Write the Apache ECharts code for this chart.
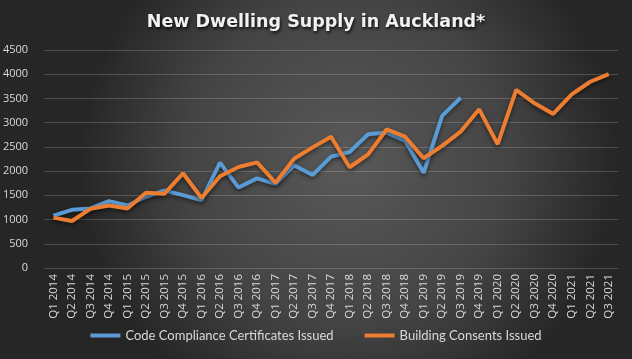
<!DOCTYPE html>
<html>
<head>
<meta charset="utf-8">
<script src="https://cdn.jsdelivr.net/npm/echarts@6/dist/echarts.min.js"></script>
<style>html,body{margin:0;padding:0;background:#333;}#c{width:632px;height:359px;}</style>
</head>
<body>
<div id="c"></div>
<script>
const categories = ["Q1 2014","Q2 2014","Q3 2014","Q4 2014","Q1 2015","Q2 2015","Q3 2015","Q4 2015","Q1 2016","Q2 2016","Q3 2016","Q4 2016","Q1 2017","Q2 2017","Q3 2017","Q4 2017","Q1 2018","Q2 2018","Q3 2018","Q4 2018","Q1 2019","Q2 2019","Q3 2019","Q4 2019","Q1 2020","Q2 2020","Q3 2020","Q4 2020","Q1 2021","Q2 2021","Q3 2021"];
const ccc = [1080,1200,1230,1380,1290,1470,1600,1505,1400,2175,1660,1850,1735,2120,1920,2300,2395,2760,2795,2630,1965,3140,3515,null,null,null,null,null,null,null,null];
const consents = [1040,970,1220,1290,1230,1555,1535,1955,1445,1895,2085,2180,1760,2255,2490,2710,2080,2345,2860,2710,2265,2520,2815,3275,2555,3675,3400,3180,3585,3845,4000];
const yTicks = {min:0, max:4500, interval:500};
const seriesNames = ["Code Compliance Certificates Issued","Building Consents Issued"];

const chart = echarts.init(document.getElementById('c'), null, {renderer:'canvas'});
chart.setOption({
  backgroundColor: {type:'radial', x:0.55, y:0.45, r:0.75, colorStops:[{offset:0,color:'#595959'},{offset:0.6,color:'#444444'},{offset:1,color:'#262626'}]},
  textStyle:{fontFamily:'Open Sans'},
  title:{
    text:'New Dwelling Supply in Auckland*', left:'center', top:8,
    textStyle:{color:'#f2f2f2', fontSize:17.5, fontWeight:'bold', fontFamily:'DejaVu Sans',
      textShadowColor:'rgba(0,0,0,0.8)', textShadowBlur:3, textShadowOffsetX:1, textShadowOffsetY:2}
  },
  grid:{left:42, right:14, top:50, bottom:91},
  legend:{
    bottom:12, left:'center', itemWidth:30, itemHeight:4, itemGap:31,
    icon:'rect',
    textStyle:{color:'#d9d9d9', fontSize:13, fontFamily:'Lato'},
    data:seriesNames
  },
  xAxis:{
    type:'category', data:categories, boundaryGap:true,
    axisLine:{show:false}, axisTick:{show:false},
    axisLabel:{rotate:90, interval:0, color:'#d9d9d9', fontSize:11.5, margin:6, fontFamily:'Open Sans'}
  },
  yAxis:{
    type:'value', min:yTicks.min, max:yTicks.max, interval:yTicks.interval,
    axisLine:{show:false}, axisTick:{show:false},
    axisLabel:{color:'#d9d9d9', fontSize:11, margin:16, fontFamily:'Open Sans', formatter:function(v){return String(v);}},
    splitLine:{lineStyle:{color:'rgba(255,255,255,0.18)', width:1}}
  },
  series:[
    {name:seriesNames[0], type:'line', data:ccc, symbol:'none', connectNulls:false,
     lineStyle:{color:'#5B9BD5', width:4, shadowColor:'rgba(0,0,0,0.5)', shadowBlur:4, shadowOffsetY:2},
     itemStyle:{color:'#5B9BD5'}},
    {name:seriesNames[1], type:'line', data:consents, symbol:'none',
     lineStyle:{color:'#ED7D31', width:4, shadowColor:'rgba(0,0,0,0.5)', shadowBlur:4, shadowOffsetY:2},
     itemStyle:{color:'#ED7D31'}}
  ]
});
</script>
</body>
</html>
